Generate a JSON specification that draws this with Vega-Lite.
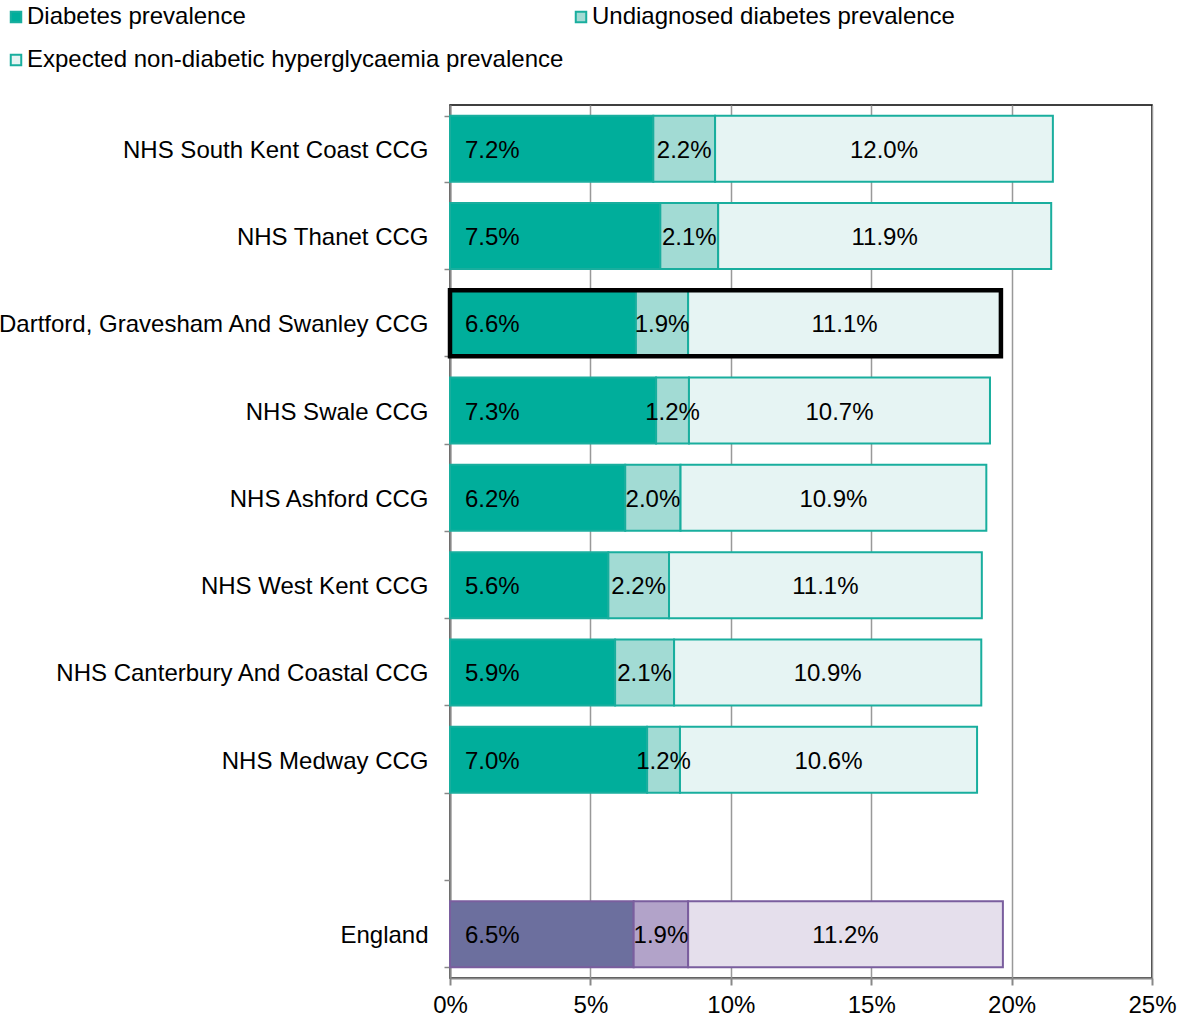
{
  "$schema": "https://vega.github.io/schema/vega-lite/v6.json",
  "width": 702,
  "height": 873,
  "autosize": {"type": "none"},
  "padding": {"left": 450, "top": 105, "right": 26, "bottom": 41},
  "background": "#ffffff",
  "config": {
    "font": "Liberation Sans",
    "view": {"stroke": "#000000", "strokeWidth": 1.5}
  },
  "data": {
    "values": [
      {"area": "NHS South Kent Coast CCG", "key": "Diabetes prevalence", "seg": 1, "value": 0.0724},
      {"area": "NHS South Kent Coast CCG", "key": "Undiagnosed diabetes prevalence", "seg": 2, "value": 0.0220},
      {"area": "NHS South Kent Coast CCG", "key": "Expected non-diabetic hyperglycaemia prevalence", "seg": 3, "value": 0.1203},
      {"area": "NHS Thanet CCG", "key": "Diabetes prevalence", "seg": 1, "value": 0.0749},
      {"area": "NHS Thanet CCG", "key": "Undiagnosed diabetes prevalence", "seg": 2, "value": 0.0206},
      {"area": "NHS Thanet CCG", "key": "Expected non-diabetic hyperglycaemia prevalence", "seg": 3, "value": 0.1186},
      {"area": "NHS Dartford, Gravesham And Swanley CCG", "key": "Diabetes prevalence", "seg": 1, "value": 0.0662},
      {"area": "NHS Dartford, Gravesham And Swanley CCG", "key": "Undiagnosed diabetes prevalence", "seg": 2, "value": 0.0186},
      {"area": "NHS Dartford, Gravesham And Swanley CCG", "key": "Expected non-diabetic hyperglycaemia prevalence", "seg": 3, "value": 0.1114},
      {"area": "NHS Swale CCG", "key": "Diabetes prevalence", "seg": 1, "value": 0.0734},
      {"area": "NHS Swale CCG", "key": "Undiagnosed diabetes prevalence", "seg": 2, "value": 0.0117},
      {"area": "NHS Swale CCG", "key": "Expected non-diabetic hyperglycaemia prevalence", "seg": 3, "value": 0.1072},
      {"area": "NHS Ashford CCG", "key": "Diabetes prevalence", "seg": 1, "value": 0.0624},
      {"area": "NHS Ashford CCG", "key": "Undiagnosed diabetes prevalence", "seg": 2, "value": 0.0197},
      {"area": "NHS Ashford CCG", "key": "Expected non-diabetic hyperglycaemia prevalence", "seg": 3, "value": 0.1089},
      {"area": "NHS West Kent CCG", "key": "Diabetes prevalence", "seg": 1, "value": 0.0564},
      {"area": "NHS West Kent CCG", "key": "Undiagnosed diabetes prevalence", "seg": 2, "value": 0.0216},
      {"area": "NHS West Kent CCG", "key": "Expected non-diabetic hyperglycaemia prevalence", "seg": 3, "value": 0.1114},
      {"area": "NHS Canterbury And Coastal CCG", "key": "Diabetes prevalence", "seg": 1, "value": 0.0588},
      {"area": "NHS Canterbury And Coastal CCG", "key": "Undiagnosed diabetes prevalence", "seg": 2, "value": 0.0210},
      {"area": "NHS Canterbury And Coastal CCG", "key": "Expected non-diabetic hyperglycaemia prevalence", "seg": 3, "value": 0.1094},
      {"area": "NHS Medway CCG", "key": "Diabetes prevalence", "seg": 1, "value": 0.0702},
      {"area": "NHS Medway CCG", "key": "Undiagnosed diabetes prevalence", "seg": 2, "value": 0.0117},
      {"area": "NHS Medway CCG", "key": "Expected non-diabetic hyperglycaemia prevalence", "seg": 3, "value": 0.1058},
      {"area": "England", "key": "England: Diabetes prevalence", "seg": 1, "value": 0.0654},
      {"area": "England", "key": "England: Undiagnosed diabetes prevalence", "seg": 2, "value": 0.0194},
      {"area": "England", "key": "England: Expected non-diabetic hyperglycaemia prevalence", "seg": 3, "value": 0.1121}
    ]
  },
  "encoding": {
    "y": {
      "field": "area",
      "type": "nominal",
      "title": null,
      "scale": {
        "domain": [
          "NHS South Kent Coast CCG",
          "NHS Thanet CCG",
          "NHS Dartford, Gravesham And Swanley CCG",
          "NHS Swale CCG",
          "NHS Ashford CCG",
          "NHS West Kent CCG",
          "NHS Canterbury And Coastal CCG",
          "NHS Medway CCG",
          "",
          "England"
        ],
        "paddingInner": 0.244,
        "paddingOuter": 0.122
      },
      "axis": {
        "tickBand": "extent",
        "grid": false,
        "domainColor": "#888888",
        "domainWidth": 2,
        "tickColor": "#888888",
        "tickWidth": 1.5,
        "tickSize": 6,
        "labelFontSize": 24,
        "labelColor": "#000000",
        "labelPadding": 16,
        "labelOffset": 1.5,
        "labelLimit": 1000
      }
    }
  },
  "layer": [
    {
      "mark": {"type": "bar", "strokeWidth": 2},
      "encoding": {
        "x": {
          "field": "value",
          "type": "quantitative",
          "stack": "zero",
          "title": null,
          "scale": {"domain": [0, 0.25], "nice": false},
          "axis": {
            "values": [0, 0.05, 0.1, 0.15, 0.2, 0.25],
            "format": ".0%",
            "grid": true,
            "gridColor": "#999999",
            "gridWidth": 1.5,
            "domainColor": "#888888",
            "domainWidth": 2,
            "tickColor": "#888888",
            "tickWidth": 2,
            "tickSize": 7,
            "labelFontSize": 24,
            "labelColor": "#000000",
            "labelPadding": 8,
            "labelFlush": false
          }
        },
        "order": {"field": "seg", "type": "quantitative"},
        "fill": {
          "field": "key",
          "type": "nominal",
          "title": null,
          "scale": {
            "domain": [
              "Diabetes prevalence",
              "Undiagnosed diabetes prevalence",
              "Expected non-diabetic hyperglycaemia prevalence",
              "England: Diabetes prevalence",
              "England: Undiagnosed diabetes prevalence",
              "England: Expected non-diabetic hyperglycaemia prevalence"
            ],
            "range": ["#00AE9B", "#A2DBD4", "#E6F4F3", "#6C6F9E", "#B2A3C9", "#E5DFEC"]
          },
          "legend": {
            "values": ["Diabetes prevalence", "Undiagnosed diabetes prevalence", "Expected non-diabetic hyperglycaemia prevalence"],
            "orient": "none",
            "direction": "horizontal",
            "legendX": -446,
            "legendY": -100,
            "columns": 2,
            "columnPadding": 5,
            "rowPadding": 19,
            "symbolType": "square",
            "symbolSize": 110,
            "symbolStrokeWidth": 2,
            "labelFontSize": 24,
            "labelColor": "#000000",
            "labelOffset": -1,
            "labelLimit": 1000
          }
        },
        "stroke": {
          "field": "key",
          "type": "nominal",
          "title": null,
          "scale": {
            "domain": [
              "Diabetes prevalence",
              "Undiagnosed diabetes prevalence",
              "Expected non-diabetic hyperglycaemia prevalence",
              "England: Diabetes prevalence",
              "England: Undiagnosed diabetes prevalence",
              "England: Expected non-diabetic hyperglycaemia prevalence"
            ],
            "range": ["#19AE9E", "#19AE9E", "#19AE9E", "#7A5E9E", "#7A5E9E", "#7A5E9E"]
          },
          "legend": {
            "values": ["Diabetes prevalence", "Undiagnosed diabetes prevalence", "Expected non-diabetic hyperglycaemia prevalence"],
            "orient": "none",
            "direction": "horizontal",
            "legendX": -446,
            "legendY": -100,
            "columns": 2,
            "columnPadding": 5,
            "rowPadding": 19,
            "symbolType": "square",
            "symbolSize": 110,
            "symbolStrokeWidth": 2,
            "labelFontSize": 24,
            "labelColor": "#000000",
            "labelOffset": -1,
            "labelLimit": 1000
          }
        }
      }
    },
    {
      "transform": [{"filter": "datum.area === 'NHS Dartford, Gravesham And Swanley CCG'"}],
      "mark": {"type": "bar", "filled": false, "stroke": "#000000", "strokeWidth": 4.5},
      "encoding": {
        "x": {"aggregate": "sum", "field": "value", "type": "quantitative"}
      }
    },
    {
      "mark": {"type": "text", "fontSize": 24, "color": "#000000", "baseline": "middle", "align": "center", "dy": 2},
      "encoding": {
        "x": {"field": "value", "type": "quantitative", "stack": "zero", "bandPosition": 0.5},
        "detail": {"field": "key", "type": "nominal"},
        "order": {"field": "seg", "type": "quantitative"},
        "text": {"condition": {"test": "datum.seg === 1", "value": ""}, "field": "value", "type": "quantitative", "format": ".1%"}
      }
    },
    {
      "transform": [{"filter": "datum.seg === 1"}],
      "mark": {"type": "text", "fontSize": 24, "color": "#000000", "baseline": "middle", "align": "left", "dx": 15, "dy": 2},
      "encoding": {
        "x": {"field": "value", "type": "quantitative", "stack": "zero", "bandPosition": 0},
        "detail": {"field": "key", "type": "nominal"},
        "text": {"field": "value", "type": "quantitative", "format": ".1%"}
      }
    }
  ]
}
